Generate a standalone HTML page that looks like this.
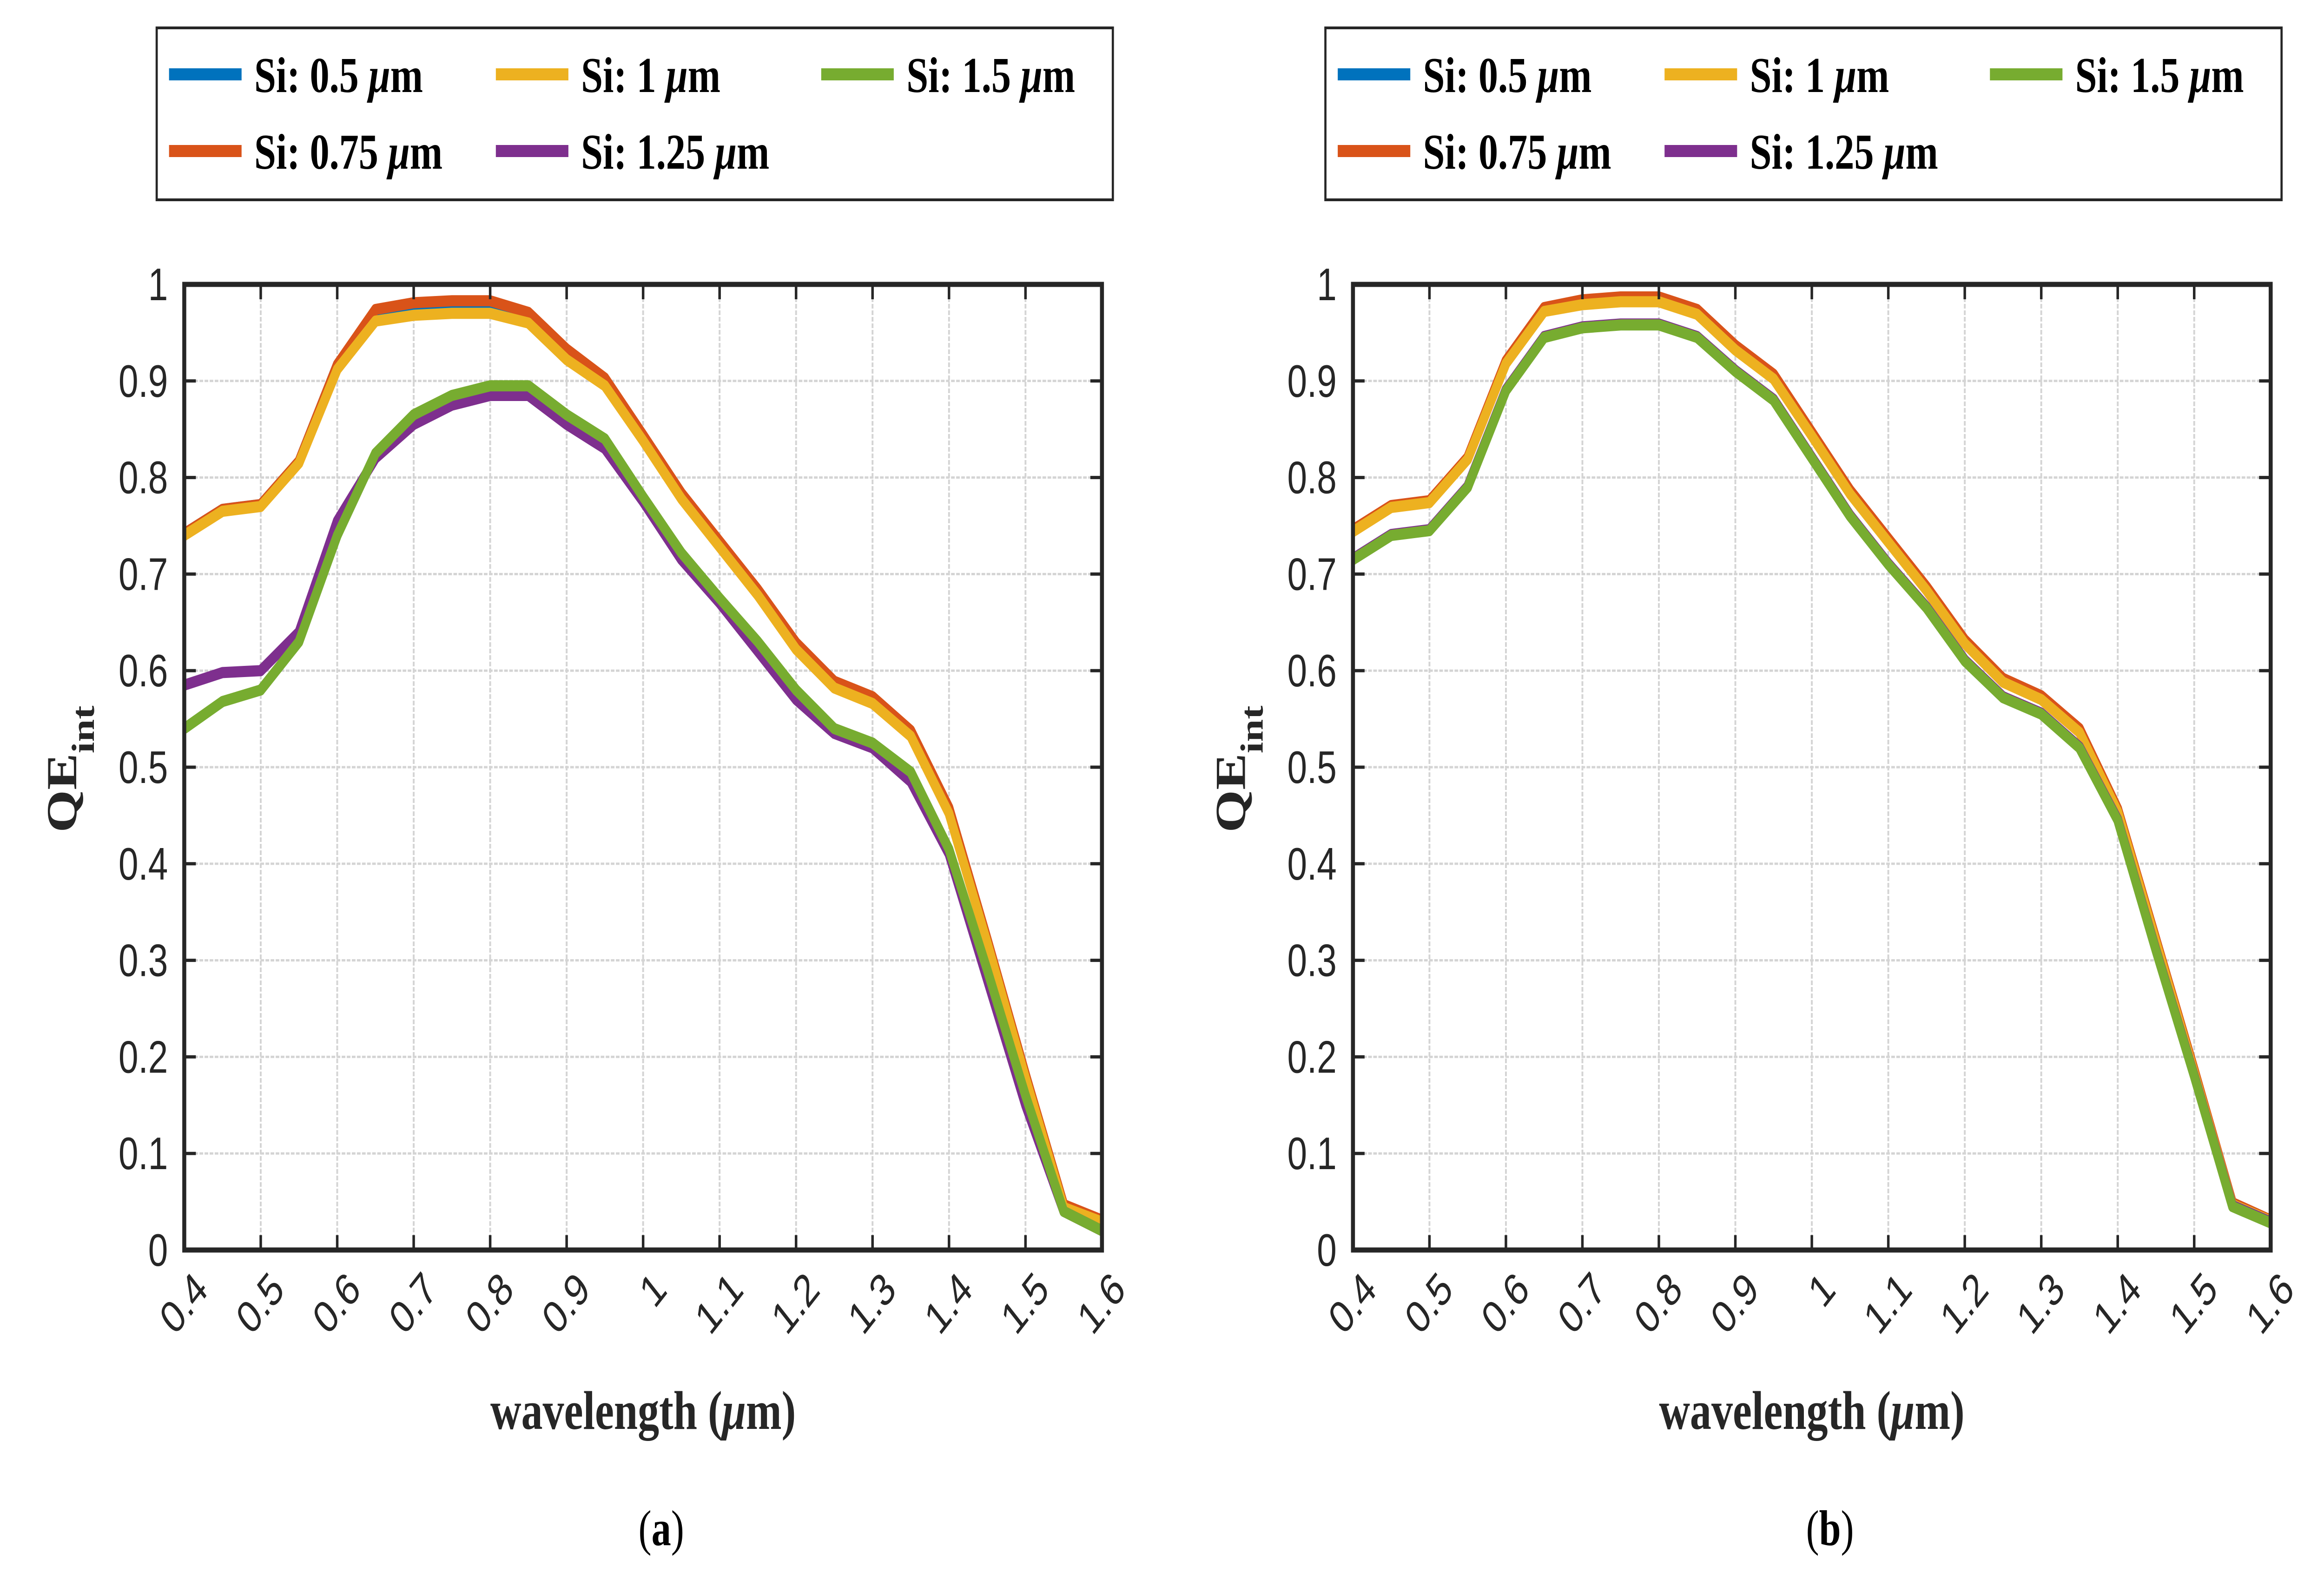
<!DOCTYPE html>
<html><head><meta charset="utf-8"><style>
html,body{margin:0;padding:0;background:#fff;width:100%;height:100%;overflow:hidden;}
svg{display:block;width:100vw;height:100vh;}
</style></head><body>
<svg id="fig" viewBox="0 0 6407 3398" preserveAspectRatio="none" xmlns="http://www.w3.org/2000/svg"></svg>
<script>
const xValues=[0.4,0.45,0.5,0.55,0.6,0.65,0.7,0.75,0.8,0.85,0.9,0.95,1.0,1.05,1.1,1.15,1.2,1.25,1.3,1.35,1.4,1.45,1.5,1.55,1.6];
const xTicks=[0.4,0.5,0.6,0.7,0.8,0.9,1,1.1,1.2,1.3,1.4,1.5,1.6];
const xTickLabels=["0.4","0.5","0.6","0.7","0.8","0.9","1","1.1","1.2","1.3","1.4","1.5","1.6"];
const yTicks=[0,0.1,0.2,0.3,0.4,0.5,0.6,0.7,0.8,0.9,1];
const yTickLabels=["0","0.1","0.2","0.3","0.4","0.5","0.6","0.7","0.8","0.9","1"];
const seriesNames=["Si: 0.5 μm","Si: 0.75 μm","Si: 1 μm","Si: 1.25 μm","Si: 1.5 μm"];
const a_si050=[0.742,0.767,0.772,0.817,0.917,0.972,0.979,0.981,0.981,0.969,0.931,0.901,0.842,0.782,0.732,0.682,0.627,0.587,0.571,0.536,0.456,0.32,0.18,0.045,0.03];
const a_si075=[0.742,0.767,0.772,0.817,0.917,0.974,0.981,0.983,0.983,0.971,0.933,0.903,0.844,0.784,0.734,0.684,0.629,0.589,0.573,0.538,0.458,0.322,0.182,0.047,0.031];
const a_si100=[0.74,0.765,0.77,0.815,0.912,0.962,0.968,0.97,0.97,0.96,0.922,0.895,0.838,0.778,0.728,0.678,0.622,0.582,0.566,0.532,0.452,0.318,0.178,0.044,0.029];
const a_si125=[0.585,0.598,0.6,0.64,0.755,0.82,0.855,0.875,0.885,0.885,0.855,0.83,0.775,0.715,0.67,0.62,0.57,0.535,0.52,0.485,0.41,0.28,0.15,0.04,0.02];
const a_si150=[0.54,0.568,0.58,0.63,0.74,0.825,0.865,0.885,0.895,0.895,0.865,0.84,0.78,0.722,0.675,0.63,0.58,0.54,0.525,0.495,0.415,0.29,0.16,0.04,0.02];
const b_si050=[0.745,0.77,0.775,0.82,0.92,0.975,0.982,0.985,0.985,0.972,0.935,0.905,0.845,0.785,0.735,0.685,0.63,0.59,0.572,0.538,0.455,0.32,0.185,0.048,0.03];
const b_si075=[0.746,0.771,0.776,0.821,0.921,0.976,0.984,0.987,0.987,0.974,0.937,0.907,0.847,0.787,0.737,0.687,0.632,0.592,0.574,0.54,0.457,0.322,0.187,0.049,0.031];
const b_si100=[0.744,0.769,0.774,0.819,0.918,0.972,0.979,0.982,0.982,0.969,0.932,0.902,0.843,0.783,0.733,0.683,0.628,0.588,0.57,0.536,0.454,0.319,0.184,0.047,0.03];
const b_si125=[0.716,0.741,0.746,0.791,0.891,0.946,0.956,0.959,0.959,0.946,0.911,0.881,0.821,0.761,0.711,0.666,0.611,0.573,0.556,0.521,0.446,0.311,0.181,0.046,0.029];
const b_si150=[0.715,0.74,0.745,0.79,0.89,0.945,0.955,0.958,0.958,0.945,0.91,0.88,0.82,0.76,0.71,0.665,0.61,0.572,0.555,0.52,0.445,0.31,0.18,0.045,0.028];

const NS="http://www.w3.org/2000/svg";
const svg=document.getElementById('fig');
const colors=["#0072BD","#D95319","#EDB120","#7E2F8E","#77AC30"];
function mk(tag,attrs,parent){const e=document.createElementNS(NS,tag);for(const k in attrs)e.setAttribute(k,attrs[k]);(parent||svg).appendChild(e);return e;}

function panel(off,data,letter){
  const L=508+off,R=3038+off,T=612,B=2690;
  const sx=v=>L+(v-0.4)/1.2*(R-L);
  const sy=v=>B-v*(B-T);
  const g=mk('g',{});
  
  
  xTicks.forEach(t=>{const l=mk('line',{x1:sx(t),x2:sx(t),y1:T,y2:B,stroke:'#d4d4d4','stroke-width':5,'stroke-dasharray':'10 4'},g);
    });
  yTicks.forEach(t=>{const l=mk('line',{x1:L,x2:R,y1:sy(t),y2:sy(t),stroke:'#d4d4d4','stroke-width':5,'stroke-dasharray':'10 4'},g);
    });
  data.forEach((arr,i)=>{
    const d=arr.map((v,j)=>(j?'L':'M')+sx(xValues[j]).toFixed(1)+' '+sy(v).toFixed(1)).join(' ');
    const p=mk('path',{d:d,fill:'none',stroke:colors[i],'stroke-width':24,'stroke-linejoin':'round'},g);
    
    
  });
  xTicks.forEach(t=>{mk('line',{x1:sx(t),x2:sx(t),y1:B,y2:B-32,stroke:'#262626','stroke-width':7},g);mk('line',{x1:sx(t),x2:sx(t),y1:T,y2:T+32,stroke:'#262626','stroke-width':7},g);});
  yTicks.forEach(t=>{mk('line',{x1:L,x2:L+32,y1:sy(t),y2:sy(t),stroke:'#262626','stroke-width':7},g);mk('line',{x1:R,x2:R-32,y1:sy(t),y2:sy(t),stroke:'#262626','stroke-width':7},g);});
  const fr=mk('rect',{x:L,y:T,width:R-L,height:B-T,fill:'none',stroke:'#262626','stroke-width':11},g);
  
  yTicks.forEach((t,i)=>{const tx=mk('text',{x:L-45,y:sy(t)+34,'text-anchor':'end','font-family':'Liberation Sans, sans-serif','font-size':98,fill:'#262626'},g);tx.textContent=yTickLabels[i];
    });
  xTicks.forEach((t,i)=>{const x=sx(t)+70,y=2780;const tx=mk('text',{x:x,y:y,'text-anchor':'end','font-family':'Liberation Sans, sans-serif','font-size':98,fill:'#262626',transform:`rotate(-45 ${x} ${y})`},g);tx.textContent=xTickLabels[i];
    });
  const xt=mk('text',{x:(L+R)/2,y:3075,'text-anchor':'middle','font-family':'Liberation Serif, serif','font-weight':'bold','font-size':118,fill:'#262626'},g);
  xt.innerHTML='wavelength (<tspan font-style="italic">μ</tspan>m)';
  
  const yt=mk('text',{x:0,y:0,'text-anchor':'middle','font-family':'Liberation Serif, serif','font-weight':'bold','font-size':118,fill:'#262626',transform:`translate(${210+off} 1655) rotate(-90)`},g);
  yt.innerHTML='QE<tspan baseline-shift="sub" font-size="88">int</tspan>';
  
  const cap=mk('text',{x:(L+R)/2+50,y:3325,'text-anchor':'middle','font-family':'Liberation Serif, serif','font-size':108,fill:'#000'},g);
  cap.innerHTML='(<tspan font-weight="bold">'+letter+'</tspan>)';
  
  const lg=mk('g',{},g);
  
  mk('rect',{x:432+off,y:60,width:2636,height:370,fill:'#fff',stroke:'#262626','stroke-width':6},lg);
  const pos=[[466,160],[466,325],[1367,160],[1367,325],[2264,160]];
  seriesNames.forEach((n,i)=>{
    const [px,py]=pos[i];
    const e=mk('g',{},lg);
    
    mk('line',{x1:px+off,x2:px+200+off,y1:py,y2:py,stroke:colors[i],'stroke-width':26},e);
    const t=mk('text',{x:px+235+off,y:py+38,'font-family':'Liberation Serif, serif','font-weight':'bold','font-size':108,fill:'#000'},e);
    t.innerHTML=n.replace('μm','<tspan font-style="italic">μ</tspan>m');
  });
}
panel(0,[a_si050,a_si075,a_si100,a_si125,a_si150],'a');
panel(3222,[b_si050,b_si075,b_si100,b_si125,b_si150],'b');
</script>
</body></html>
